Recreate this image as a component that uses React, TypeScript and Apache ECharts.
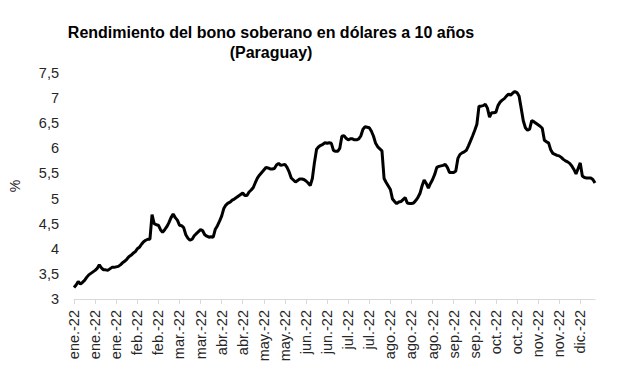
import React, { useEffect, useRef } from "react";
import * as echarts from "echarts";

const titleText = "Rendimiento del bono soberano en dólares a 10 años\n(Paraguay)";
const monthNames = ["ene.", "feb.", "mar.", "abr.", "may.", "jun.", "jul.", "ago.", "sep.", "oct.", "nov.", "dic."];
const yTicks = [3, 3.5, 4, 4.5, 5, 5.5, 6, 6.5, 7, 7.5];

// Daily (business-day) yield, %
const yieldValues = [
  3.23, 3.28, 3.35, 3.30, 3.33, 3.37, 3.43, 3.48, 3.51, 3.54,
  3.57, 3.61, 3.68, 3.62, 3.58, 3.58, 3.57, 3.60, 3.63, 3.63,
  3.64, 3.65, 3.68, 3.72, 3.75, 3.79, 3.84, 3.87, 3.91, 3.94,
  4.00, 4.03, 4.09, 4.14, 4.17, 4.19, 4.19, 4.68, 4.50, 4.48,
  4.47, 4.38, 4.33, 4.38, 4.44, 4.52, 4.62, 4.69, 4.62, 4.57,
  4.47, 4.46, 4.42, 4.28, 4.21, 4.17, 4.19, 4.26, 4.30, 4.34,
  4.38, 4.36, 4.28, 4.25, 4.23, 4.24, 4.23, 4.39, 4.46, 4.55,
  4.65, 4.80, 4.87, 4.91, 4.93, 4.97, 4.99, 5.02, 5.05, 5.08,
  5.11, 5.06, 5.06, 5.13, 5.17, 5.22, 5.32, 5.41, 5.47, 5.52,
  5.57, 5.62, 5.61, 5.59, 5.59, 5.60, 5.67, 5.70, 5.66, 5.67,
  5.68, 5.62, 5.53, 5.41, 5.37, 5.33, 5.36, 5.39, 5.39, 5.38,
  5.35, 5.31, 5.26, 5.40, 5.72, 5.98, 6.03, 6.06, 6.08, 6.11,
  6.10, 6.11, 6.10, 5.96, 5.94, 5.94, 6.00, 6.24, 6.25, 6.20,
  6.17, 6.19, 6.19, 6.17, 6.17, 6.19, 6.25, 6.38, 6.43, 6.42,
  6.41, 6.34, 6.24, 6.10, 6.03, 5.99, 5.95, 5.40, 5.32, 5.25,
  5.18, 4.99, 4.94, 4.90, 4.93, 4.94, 4.98, 5.02, 4.91, 4.90,
  4.90, 4.91, 4.96, 5.02, 5.10, 5.25, 5.37, 5.30, 5.21, 5.30,
  5.38, 5.48, 5.62, 5.64, 5.65, 5.66, 5.68, 5.62, 5.52, 5.52,
  5.52, 5.55, 5.80, 5.88, 5.91, 5.93, 5.96, 6.05, 6.15, 6.25,
  6.36, 6.48, 6.84, 6.84, 6.85, 6.88, 6.80, 6.62, 6.71, 6.71,
  6.72, 6.85, 6.92, 6.96, 6.99, 7.04, 7.08, 7.06, 7.10, 7.13,
  7.11, 7.04, 6.80, 6.55, 6.41, 6.36, 6.38, 6.55, 6.53, 6.50,
  6.47, 6.44, 6.40, 6.16, 6.13, 6.11, 5.97, 5.90, 5.88, 5.86,
  5.85, 5.82, 5.78, 5.75, 5.73, 5.70, 5.65, 5.58, 5.49, 5.60,
  5.71, 5.45, 5.42, 5.41, 5.41, 5.41, 5.38, 5.31,
];

// Business-day dates (unique categories) starting Monday 3 Jan 2022
const startDate = new Date(2022, 0, 3);
function pad(n: number): string {
  return n < 10 ? "0" + n : String(n);
}
function buildDates(n: number): string[] {
  const out: string[] = [];
  const d = new Date(startDate.getTime());
  while (out.length < n) {
    const wd = d.getDay();
    if (wd !== 0 && wd !== 6) {
      out.push(d.getFullYear() + "-" + pad(d.getMonth() + 1) + "-" + pad(d.getDate()));
    }
    d.setDate(d.getDate() + 1);
  }
  return out;
}
const dates = buildDates(yieldValues.length);
const labelStep = 10;

function monthLabel(iso: string): string {
  const parts = iso.split("-");
  return monthNames[Number(parts[1]) - 1] + "-" + parts[0].slice(2);
}

export default function App() {
  const ref = useRef<HTMLDivElement>(null);
  useEffect(() => {
    if (!ref.current) return;
    const chart = echarts.init(ref.current, undefined, { renderer: "svg" });
    const font = "'Liberation Sans', Arial, sans-serif";
    const every = (index: number) => index % labelStep === 0;
    chart.setOption({
      animation: false,
      backgroundColor: "#ffffff",
      title: {
        text: titleText,
        left: 266,
        top: 17,
        textAlign: "center",
        textStyle: {
          fontFamily: font,
          fontSize: 16,
          fontWeight: "bold",
          color: "#000000",
          lineHeight: 20,
        },
      },
      grid: { left: 72, right: 22, top: 73, bottom: 77, containLabel: false },
      xAxis: {
        type: "category",
        data: dates,
        boundaryGap: false,
        axisLine: { show: true, lineStyle: { color: "#d9d9d9", width: 1 } },
        axisTick: { show: true, interval: every, length: 5, lineStyle: { color: "#d9d9d9" } },
        axisLabel: {
          interval: every,
          hideOverlap: false,
          rotate: 90,
          margin: 11,
          fontFamily: font,
          fontSize: 14.5,
          lineHeight: 14,
          color: "#262626",
          formatter: (v: string) => monthLabel(v),
        },
        splitLine: { show: false },
      },
      yAxis: {
        type: "value",
        min: yTicks[0],
        max: yTicks[yTicks.length - 1],
        interval: 0.5,
        name: "%",
        nameLocation: "middle",
        nameGap: 52,
        nameTextStyle: { fontFamily: font, fontSize: 14, color: "#262626" },
        axisLine: { show: false },
        axisTick: { show: false },
        splitLine: { show: false },
        axisLabel: {
          margin: 15,
          fontFamily: font,
          fontSize: 14.5,
          color: "#262626",
          formatter: (v: number) => String(v).replace(".", ","),
        },
      },
      series: [
        {
          type: "line",
          data: yieldValues,
          showSymbol: false,
          lineStyle: { color: "#000000", width: 3 },
          itemStyle: { color: "#000000" },
        },
      ],
    });
    return () => chart.dispose();
  }, []);
  return (
    <div
      ref={ref}
      style={{ position: "fixed", left: 0, top: 0, width: 617, height: 376, background: "#fff" }}
    />
  );
}
